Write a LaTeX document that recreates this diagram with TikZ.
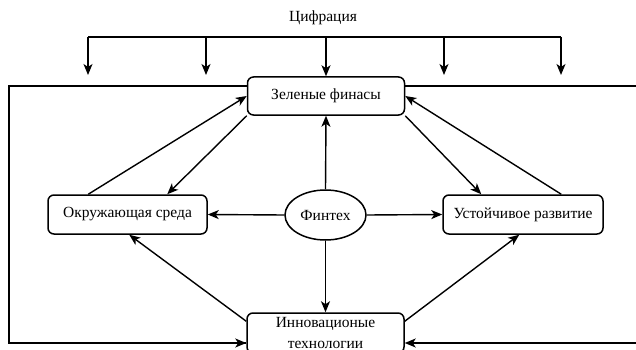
\documentclass[tikz,border=0pt]{standalone}
\usepackage{fontspec}
\setmainfont{Liberation Serif}
\usetikzlibrary{arrows.meta,shapes.geometric}
\begin{document}
\begin{tikzpicture}[x=1pt,y=-1pt,
  line width=1.4pt,
  arr/.style={-{Stealth[length=11pt,width=9pt,inset=3pt]}},
  box/.style={draw,rounded corners=6pt,line width=1.5pt,inner sep=0pt,font=\fontsize{15.5}{21}\selectfont,align=center},
  lbl/.style={font=\fontsize{15.5}{17}\selectfont}]
\useasboundingbox (0,0) rectangle (636,350);
\node[lbl] (cif) at (323,18) {Цифрация};
\node[box,minimum width=157pt,minimum height=38pt] (zf) at (326,96) {Зеленые финасы};
\node[box,minimum width=159pt,minimum height=39pt] (os) at (127.5,214.5) {Окружающая среда};
\node[box,minimum width=160pt,minimum height=39pt] (ur) at (523,214.5) {Устойчивое развитие};
\node[draw,ellipse,line width=1.5pt,minimum width=81pt,minimum height=50pt,inner sep=0pt,font=\fontsize{15.5}{17}\selectfont] (ft) at (325.5,215) {Финтех};
\node[box,minimum width=157pt,minimum height=40pt] (it) at (325.5,333) {Инновационые\\технологии};
% top bus
\coordinate (b1) at (88,37);
\coordinate (b5) at (561,37);
\draw (b1) -- (b5);
\foreach \x [count=\i] in {88,206,444,561}{
  \coordinate (t\i) at (\x,37);
  \coordinate (e\i) at (\x,75);
  \draw[arr] (t\i) -- (e\i);
}
\coordinate (tc) at (326,37);
\draw[arr] (tc) -- (zf.north);
% frame
\coordinate (fl1) at (9,86);
\coordinate (fl2) at (9,343);
\coordinate (fr1) at (636,86);
\coordinate (fr2) at (636,343);
\draw (zf.west |- fl1) -- (fl1) -- (fl2) -- (it.west |- fl2);
\draw[arr] ([xshift=-10pt]it.west |- fl2) -- (it.west |- fl2);
\draw (zf.east |- fr1) -- (fr1);
\draw[arr] (fr2) -- (it.east |- fr2);
% fintech arrows
\draw[arr] (ft.north) -- (zf.south);
\draw[arr] (ft.south) -- (it.north);
\draw[arr] (ft.west) -- (os.east);
\draw[arr] (ft.east) -- (ur.west);
% diagonals
\draw[arr] (os.north west) ++(41pt,0) coordinate (o1) (o1) -- (zf.west);
\draw[arr] (zf.south west) -- ([xshift=120pt]os.north west);
\draw[arr] (zf.south east) -- ([xshift=39pt]ur.north west);
\draw[arr] ([xshift=119pt]ur.north west) -- (zf.east);
\draw[arr] ([yshift=-9pt]it.north west) -- ([xshift=82pt]os.south west);
\draw[arr] ([yshift=-9pt]it.north east) -- ([xshift=77pt]ur.south west);
\end{tikzpicture}
\end{document}
